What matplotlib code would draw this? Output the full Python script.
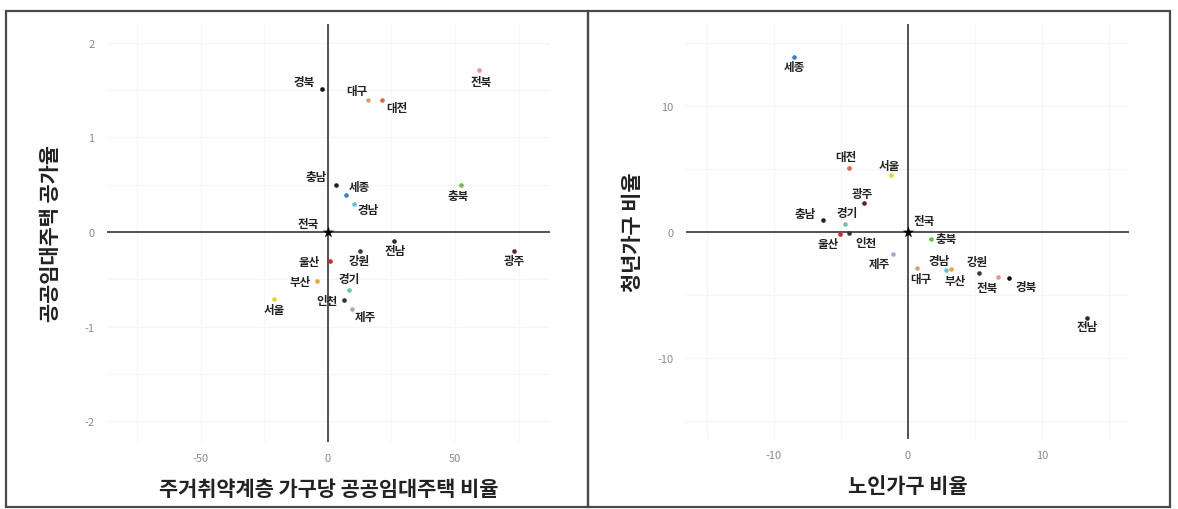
import matplotlib
matplotlib.use('Agg')
import matplotlib.pyplot as plt
from matplotlib.patches import Rectangle
from matplotlib.ticker import MultipleLocator

plt.rcParams['font.family'] = ['Noto Sans CJK KR', 'DejaVu Sans']
plt.rcParams['axes.unicode_minus'] = False

regions = ['서울', '부산', '대구', '인천', '광주', '대전', '울산', '세종', '경기',
           '강원', '충북', '충남', '전북', '전남', '경북', '경남', '제주']

# 주거취약계층 가구당 공공임대주택 비율 / 공공임대주택 공가율 (전국 대비 편차)
supply_ratio = [-21.1, -4.2, 15.9, 6.4, 73.2, 21.1, 0.8, 7.0, 8.3,
                12.6, 52.4, 3.1, 59.6, 26.1, -2.2, 10.2, 9.3]
vacancy_rate = [-0.71, -0.52, 1.40, -0.72, -0.20, 1.40, -0.31, 0.39, -0.61,
                -0.20, 0.50, 0.50, 1.71, -0.09, 1.51, 0.30, -0.81]

# 노인가구 비율 / 청년가구 비율 (전국 대비 편차)
elderly_ratio = [-1.27, 3.19, 0.70, -4.38, -3.28, -4.38, -5.07, -8.49, -4.70,
                 5.30, 1.72, -6.37, 6.69, 13.34, 7.56, 2.84, -1.10]
youth_ratio = [4.56, -2.90, -2.84, -0.06, 2.32, 5.10, -0.12, 13.9, 0.67,
               -3.21, -0.52, 0.94, -3.56, -6.79, -3.61, -3.03, -1.71]

colors = {
    '서울': '#e3d52c', '부산': '#f2a23c', '대구': '#cfa56e', '인천': '#333333',
    '광주': '#5a2424', '대전': '#e8643c', '울산': '#d7262a', '세종': '#3b80c2',
    '경기': '#6cc5a8', '강원': '#3a3a3a', '충북': '#6dbf4c', '충남': '#222222',
    '전북': '#f09090', '전남': '#2a2a2a', '경북': '#111111', '경남': '#5cc2e0',
    '제주': '#c29ad2',
}

# label offsets in pixels (right, down)
offsets_left = {
    '경북': (-18, -8), '대구': (-12, -9), '대전': (15, 8), '전북': (2, 11),
    '충남': (-20, -8), '세종': (14, -9), '경남': (14, 6), '충북': (-3, 11),
    '전남': (1, 10), '강원': (-1, 10), '광주': (0, 10), '울산': (-21, 0),
    '부산': (-17, 0), '경기': (0, -11), '인천': (-17, 0), '서울': (0, 10),
    '제주': (14, 8), '전국': (-20, -9),
}
offsets_right = {
    '세종': (0, 10), '대전': (-3, -11), '서울': (-2, -9), '광주': (-2, -9),
    '충남': (-18, -7), '경기': (2, -11), '전국': (16, -12), '울산': (-12, 10),
    '인천': (17, 10), '충북': (15, 0), '제주': (-14, 10), '경남': (-7, -10),
    '부산': (4, 12), '대구': (3, 11), '강원': (-2, -11), '전북': (-11, 10),
    '경북': (17, 9), '전남': (0, 9),
}

W, H = 1178, 510
fig = plt.figure(figsize=(W / 100, H / 100), dpi=100)


def px_box(x0, y0, x1, y1):
    return [x0 / W, 1 - y1 / H, (x1 - x0) / W, (y1 - y0) / H]


def quadrant(ax, xs, ys, offsets, xlim, ylim, xstep, ystep, xlabel, ylabel, ypad):
    ax.set_xlim(*xlim)
    ax.set_ylim(*ylim)
    for s in ax.spines.values():
        s.set_visible(False)
    ax.xaxis.set_major_locator(MultipleLocator(xstep))
    ax.yaxis.set_major_locator(MultipleLocator(ystep))
    ax.xaxis.set_minor_locator(MultipleLocator(xstep / 2))
    ax.yaxis.set_minor_locator(MultipleLocator(ystep / 2))
    ax.grid(True, which='both', color='#f6f6f6', linewidth=0.9)
    ax.tick_params(which='both', length=0, labelsize=8, labelcolor='#8a8a8a')
    ax.tick_params(axis='x', pad=8)
    ax.tick_params(axis='y', pad=9)
    ax.axhline(0, color='#3a3535', linewidth=1.2, zorder=2)
    ax.axvline(0, color='#3a3535', linewidth=1.2, zorder=2)
    for name, x, y in zip(regions, xs, ys):
        ax.scatter(x, y, s=11, color=colors[name], zorder=3, linewidths=0)
        dx, dy = offsets[name]
        ax.annotate(name, (x, y), xytext=(dx, -dy), textcoords='offset pixels',
                    ha='center', va='center', fontsize=8.3, color='#222222',
                    fontweight='bold')
    ax.scatter(0, 0, marker='*', s=75, color='black', zorder=4, linewidths=0)
    dx, dy = offsets['전국']
    ax.annotate('전국', (0, 0), xytext=(dx, -dy), textcoords='offset pixels',
                ha='center', va='center', fontsize=8.3, color='#222222',
                fontweight='bold')
    ax.set_xlabel(xlabel, fontsize=15, fontweight='bold', color='#222222',
                  labelpad=11)
    ax.set_ylabel(ylabel, fontsize=15, fontweight='bold', color='#222222',
                  labelpad=ypad)


ax1 = fig.add_axes(px_box(107, 25, 550, 443))
quadrant(ax1, supply_ratio, vacancy_rate, offsets_left,
         (-87.0, 87.4), (-2.22, 2.20), 50, 1,
         '주거취약계층 가구당 공공임대주택 비율', '공공임대주택 공가율', 17)

ax2 = fig.add_axes(px_box(686, 25, 1129, 440))
quadrant(ax2, elderly_ratio, youth_ratio, offsets_right,
         (-16.57, 16.49), (-16.4, 16.5), 10, 10,
         '노인가구 비율', '청년가구 비율', 10)

# panel frames
for x0, x1 in [(6, 588), (588, 1170)]:
    fig.patches.append(Rectangle((x0 / W, 1 - 508 / H), (x1 - x0) / W, (508 - 12) / H,
                                 transform=fig.transFigure, fill=False,
                                 edgecolor='#4a4a4a', linewidth=1.6))

fig.savefig('out.png', dpi=100)
